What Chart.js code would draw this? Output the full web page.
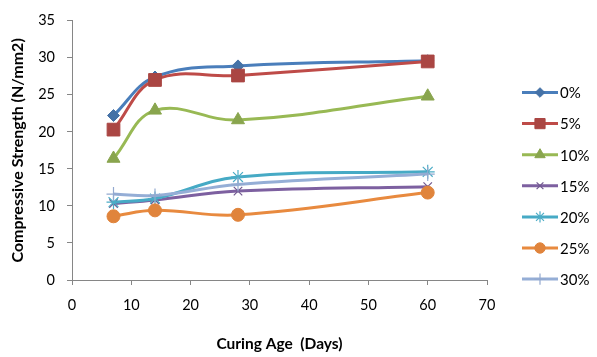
<!DOCTYPE html>
<html>
<head>
<meta charset="utf-8">
<script src="https://cdn.jsdelivr.net/npm/chart.js"></script>
<style>
  html, body { margin: 0; padding: 0; background: #fff; }
  #wrap { width: 597px; height: 357px; position: relative; }
</style>
</head>
<body>
<div id="wrap"><canvas id="strengthChart"></canvas></div>
<script>
// curing age in days
const days = [7, 14, 28, 60];

// compressive strength (N/mm2) per replacement level
const s0 = [22.2, 27.4, 28.9, 29.6];
const s5 = [20.3, 27.0, 27.6, 29.5];
const s10 = [16.4, 22.9, 21.6, 24.8];
const s15 = [10.3, 10.8, 12.0, 12.6];
const s20 = [10.5, 11.0, 13.9, 14.6];
const s25 = [8.6, 9.4, 8.8, 11.8];
const s30 = [11.6, 11.4, 12.9, 14.3];

const seriesLabels = ["0%", "5%", "10%", "15%", "20%", "25%", "30%"];
const seriesValues = [s0, s5, s10, s15, s20, s25, s30];

const lineColors = ["#4A7EBB", "#BE4B48", "#98B954", "#7D60A0", "#46AAC5", "#E88A3F", "#95AED6"];
const markerColors = ["#4572A7", "#AA4643", "#89A54E", "#71588F", "#4BACC6", "#E0843C", "#93A9CF"];
const markerStyles = ["rectRot", "rect", "triangle", "crossRot", "star", "circle", "cross"];
const markerSizes = [6, 9, 7.5, 6, 7, 6.5, 7];

const FONT = "Lato, 'Liberation Sans', sans-serif";

const datasets = seriesLabels.map((label, i) => ({
  label,
  data: days.map((d, j) => ({ x: d, y: seriesValues[i][j] })),
  borderColor: lineColors[i],
  backgroundColor: markerColors[i],
  pointBackgroundColor: markerColors[i],
  pointBorderColor: markerColors[i],
  pointBorderWidth: (markerStyles[i] === "crossRot" || markerStyles[i] === "star" || markerStyles[i] === "cross") ? 1.2 : 1,
  pointStyle: markerStyles[i],
  pointRadius: markerSizes[i],
  borderWidth: 3,
  tension: 0.4,
  fill: false,
  order: seriesLabels.length - i
}));

// legend drawn on the right side like the spreadsheet one
const sideLegend = {
  id: "sideLegend",
  afterDraw(chart) {
    const ctx = chart.ctx;
    const x0 = 522, x1 = 558, top = 92.5, step = 31.1;
    ctx.save();
    chart.data.datasets.forEach((ds, i) => {
      const y = top + i * step;
      ctx.strokeStyle = ds.borderColor;
      ctx.lineWidth = 3;
      ctx.beginPath();
      ctx.moveTo(x0, y);
      ctx.lineTo(x1, y);
      ctx.stroke();
      ctx.fillStyle = ds.pointBackgroundColor;
      ctx.strokeStyle = ds.pointBorderColor;
      ctx.lineWidth = ds.pointBorderWidth;
      Chart.helpers.drawPoint(ctx, {
        pointStyle: ds.pointStyle,
        radius: ds.pointRadius * 0.8,
        rotation: 0,
        borderWidth: ds.pointBorderWidth
      }, (x0 + x1) / 2, y);
      ctx.fillStyle = "#000";
      ctx.font = "15px " + FONT;
      ctx.textBaseline = "middle";
      ctx.textAlign = "left";
      ctx.fillText(ds.label, 560, y + 1);
    });
    ctx.restore();
  }
};

new Chart(document.getElementById("strengthChart"), {
  type: "line",
  data: { datasets },
  options: {
    responsive: true,
    maintainAspectRatio: false,
    animation: false,
    layout: { padding: { left: 0, right: 110, top: 16, bottom: 0 } },
    plugins: {
      legend: { display: false },
      tooltip: { enabled: false }
    },
    scales: {
      x: {
        type: "linear",
        min: 0,
        max: 70,
        ticks: { stepSize: 10, color: "#000", padding: 12, font: { family: FONT, size: 14.5 } },
        grid: { drawOnChartArea: false, tickLength: 5, color: "#868686" },
        border: { color: "#868686", width: 1 },
        title: { display: true, text: "Curing Age  (Days)", color: "#000", font: { family: FONT, size: 15.5, weight: "bold" }, padding: { top: 9 } },
        afterFit: s => { s.height = 77; }
      },
      y: {
        min: 0,
        max: 35,
        ticks: { stepSize: 5, color: "#000", padding: 12, font: { family: FONT, size: 14.5 } },
        grid: { drawOnChartArea: false, tickLength: 5, color: "#868686" },
        border: { color: "#868686", width: 1 },
        title: { display: true, text: "Compressive Strength (N/mm2)", color: "#000", font: { family: FONT, size: 16, weight: "bold" }, padding: { top: 8, bottom: 0 } },
        afterFit: s => { s.width = 72; }
      }
    }
  },
  plugins: [sideLegend]
});
</script>
</body>
</html>
